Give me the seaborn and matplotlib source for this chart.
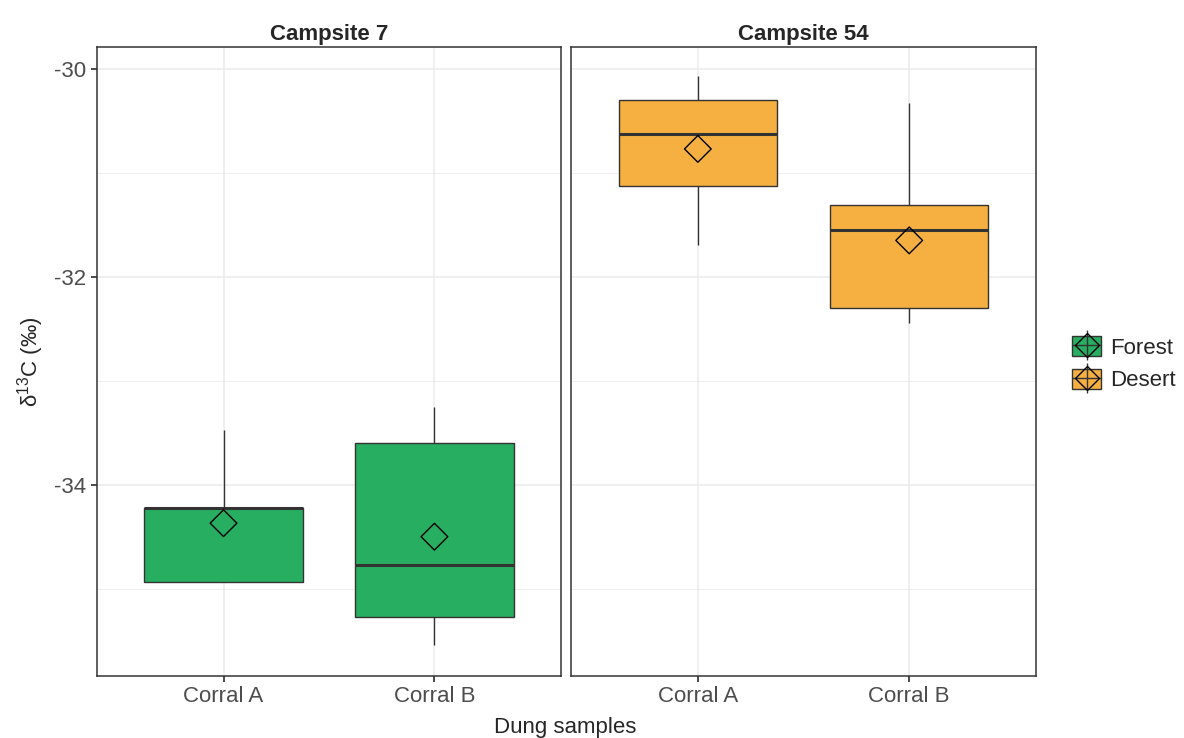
import numpy as np
import pandas as pd
import seaborn as sns
import matplotlib.pyplot as plt
from matplotlib.patches import Patch
from matplotlib.lines import Line2D
from matplotlib.legend_handler import HandlerTuple

# --- DATA (five-number summaries) ---
SITES = ['Campsite 7', 'Campsite 54']
CORRALS = ['Corral A', 'Corral B']
HABITAT = {'Campsite 7': 'Forest', 'Campsite 54': 'Desert'}
COLORS = {'Forest': '#27AE60', 'Desert': '#F5B041'}

# min, q1, median, q3, max
c7_corral_a = [-34.94, -34.94, -34.22, -34.22, -33.47]
c7_corral_b = [-35.54, -35.27, -34.77, -33.60, -33.25]
c54_corral_a = [-31.69, -31.125, -30.63, -30.30, -30.07]
c54_corral_b = [-32.44, -32.30, -31.55, -31.31, -30.33]

c7_means = [-34.37, -34.50]
c54_means = [-30.77, -31.65]

summaries = {
    'Campsite 7': [c7_corral_a, c7_corral_b],
    'Campsite 54': [c54_corral_a, c54_corral_b],
}
means = {'Campsite 7': c7_means, 'Campsite 54': c54_means}

rows = []
for site in SITES:
    for corral, vals in zip(CORRALS, summaries[site]):
        for v in vals:
            rows.append({'site': site, 'corral': corral, 'd13C': v})
df = pd.DataFrame(rows)

FS = 16

sns.set_theme(style='white')
plt.rcParams['font.family'] = ['Liberation Sans', 'DejaVu Sans']
plt.rcParams['mathtext.default'] = 'regular'

fig = plt.figure(figsize=(11.84, 7.38), dpi=100)
ax1 = fig.add_axes([0.0819, 0.0840, 0.3919, 0.8523])
ax2 = fig.add_axes([0.4823, 0.0840, 0.3927, 0.8523], sharey=ax1)

for ax, site in zip([ax1, ax2], SITES):
    sub = df[df['site'] == site]
    col = COLORS[HABITAT[site]]
    ax.set_axisbelow(True)
    sns.boxplot(data=sub, x='corral', y='d13C', order=CORRALS, color=col,
                width=0.75, whis=(0, 100), fliersize=0, saturation=1,
                showcaps=False, linecolor='#333333', linewidth=1.0,
                medianprops={'linewidth': 2.2, 'color': '#333333'},
                ax=ax, zorder=2)
    mdf = pd.DataFrame({'corral': CORRALS, 'mean': means[site]})
    sns.scatterplot(data=mdf, x='corral', y='mean', marker='D', s=185,
                    facecolor='none', edgecolor='black', linewidth=1.0,
                    ax=ax, zorder=3, legend=False)
    ax.set_xlim(-0.6, 1.6)
    ax.set_ylim(-35.84, -29.79)
    ax.set_yticks([-30, -32, -34])
    ax.set_yticks([-31, -33, -35], minor=True)
    ax.grid(True, which='major', color='#EBEBEB', linewidth=1.1)
    ax.grid(True, which='minor', axis='y', color='#EBEBEB', linewidth=0.6)
    for s in ax.spines.values():
        s.set_color('#333333')
        s.set_linewidth(1.1)
        s.set_visible(True)
    ax.tick_params(axis='both', which='major', length=4, color='#333333',
                   labelsize=FS, labelcolor='#4D4D4D', bottom=True, left=True)
    ax.tick_params(axis='y', which='minor', length=0)
    ax.set_title(site, fontsize=FS, fontweight='bold', pad=5)
    ax.set_xlabel('')
    ax.set_ylabel('')

ax1.set_yticklabels(['-30', '-32', '-34'])
ax2.tick_params(axis='y', which='major', labelleft=False, length=0)
ax1.set_ylabel('δ$^{13}$C (‰)', fontsize=FS, labelpad=6)
fig.text(0.4775, 0.0, 'Dung samples', ha='center', va='bottom', fontsize=FS)

handles = []
for hab in ['Forest', 'Desert']:
    box = Patch(facecolor=COLORS[hab], edgecolor='#333333', linewidth=1.0)
    line = Line2D([], [], color='#333333', linewidth=1.0, marker='|',
                  markersize=22, markeredgewidth=1.0)
    dia = Line2D([], [], linestyle='none', marker='D', markersize=12,
                 markerfacecolor='none', markeredgecolor='black', markeredgewidth=1.0)
    handles.append((box, line, dia))
fig.legend(handles, ['Forest', 'Desert'],
           handler_map={tuple: HandlerTuple(ndivide=1, pad=0)},
           loc='center left', bbox_to_anchor=(0.898, 0.507), frameon=False,
           fontsize=FS, handlelength=1.3, handleheight=1.0, labelspacing=0.45,
           handletextpad=0.4, borderaxespad=0.0)

fig.savefig('out.png', dpi=100)
